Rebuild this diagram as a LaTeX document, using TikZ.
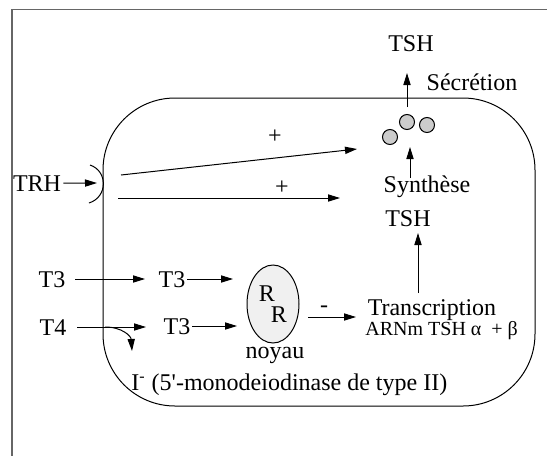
\documentclass[tikz,border=0pt]{standalone}
\usepackage{fontspec}
\setmainfont{Liberation Serif}
\newfontfamily\rawserif{Liberation Serif}
\usetikzlibrary{arrows.meta,shapes.geometric}
\begin{document}
\begin{tikzpicture}[x=0.5pt,y=-0.5pt,
  txt/.style={inner sep=0pt, anchor=base, font=\fontsize{12}{14}\selectfont},
  smalltxt/.style={inner sep=0pt, anchor=base west, font=\fontsize{10}{12}\selectfont},
  arr/.style={-{Triangle[length=6pt,width=3.6pt]}, line width=0.5pt},
  ln/.style={line width=0.5pt},
  framestyle/.style={draw=black!60, line width=0.8pt},
  vesicle/.style={circle, draw, fill=black!20, minimum size=7.5pt, inner sep=0pt, line width=0.5pt}
]
\useasboundingbox (0,0) rectangle (547,456);
% outer frame
\draw[framestyle] (547,9.5) -- (12,9.5) -- (12,456);
% cell
\draw[ln, rounded corners=36pt] (103,98) rectangle (535,406);
% receptor
\draw[ln] (90,165) .. controls (108,171) and (108,197) .. (89,203);

% vesicles
\node[vesicle] (c1) at (390,137) {};
\node[vesicle] (c2) at (407,122) {};
\node[vesicle] (c3) at (427,125) {};

% texts
\node[txt] (tshtop) at (411,51) {TSH};
\node[txt] (secr) at (472,90) {Sécrétion};
\node[txt] (p1) at (275,143) {+};
\node[txt] (p2) at (282,194) {+};
\node[txt] (trh) at (37,191) {TRH};
\node[txt] (synth) at (427,192) {Synthèse};
\node[txt] (tsh2) at (408,226) {TSH};
\node[txt] (t3a) at (52,287) {T3};
\node[txt] (t3b) at (172,287) {T3};
\node[txt] (t4) at (53,335) {T4};
\node[txt] (t3c) at (177,334) {T3};
\node[ellipse, draw, fill=black!6, line width=0.5pt, minimum width=26pt, minimum height=39pt, inner sep=0pt] (nuc) at (273,304) {};
\node[txt] (r1) at (267,301) {R};
\node[txt] (r2) at (279,322) {R};
\node[txt] (noy) at (275,358) {noyau};
\node[txt] (minus) at (324,312) {-};
\node[txt] (trans) at (432,315) {Transcription};
\node[smalltxt] (arn) at (365,335) {ARNm TSH α~~+ β};
\node[txt, anchor=base west] (iod) at (131,390) {I\textsuperscript{-} (5{\rawserif '}-monodeiodinase de type II)};

% connector end points
\coordinate (rec) at (97,183);
\coordinate (u1) at (121,175); \coordinate (u2) at (357,149);
\coordinate (l1) at (118,198); \coordinate (l2) at (340,198);
\coordinate (sy1) at (410,178); \coordinate (sy2) at (410,147);
\coordinate (se1) at (407,107); \coordinate (se2) at (407,73);
\coordinate (a1) at (75,279); \coordinate (a2) at (145,279);
\coordinate (b1) at (187,279); \coordinate (b2) at (233,279);
\coordinate (d1) at (77,327); \coordinate (d2) at (146,327);
\coordinate (k1) at (105,327); \coordinate (k2) at (132,351);
\coordinate (e1) at (192,326); \coordinate (e2) at (237,326);
\coordinate (n1) at (308,317); \coordinate (n2) at (356,317);
\coordinate (tr1) at (418,293); \coordinate (tr2) at (418,233);

% connectors
\draw[arr] ([xshift=1pt]trh.east) -- (rec);
\draw[arr] (u1) -- (u2);
\draw[arr] (l1) -- (l2);
\draw[arr] (sy1) -- (sy2);
\draw[arr] (se1) -- (se2);
\draw[arr] (a1) -- (a2);
\draw[arr] (b1) -- (b2);
\draw[arr] (d1) -- (d2);
\draw[arr] (k1) .. controls (122,327) and (131,336) .. (k2);
\draw[arr] (e1) -- (e2);
\draw[arr] (n1) -- (n2);
\draw[arr] (tr1) -- (tr2);
\end{tikzpicture}
\end{document}
